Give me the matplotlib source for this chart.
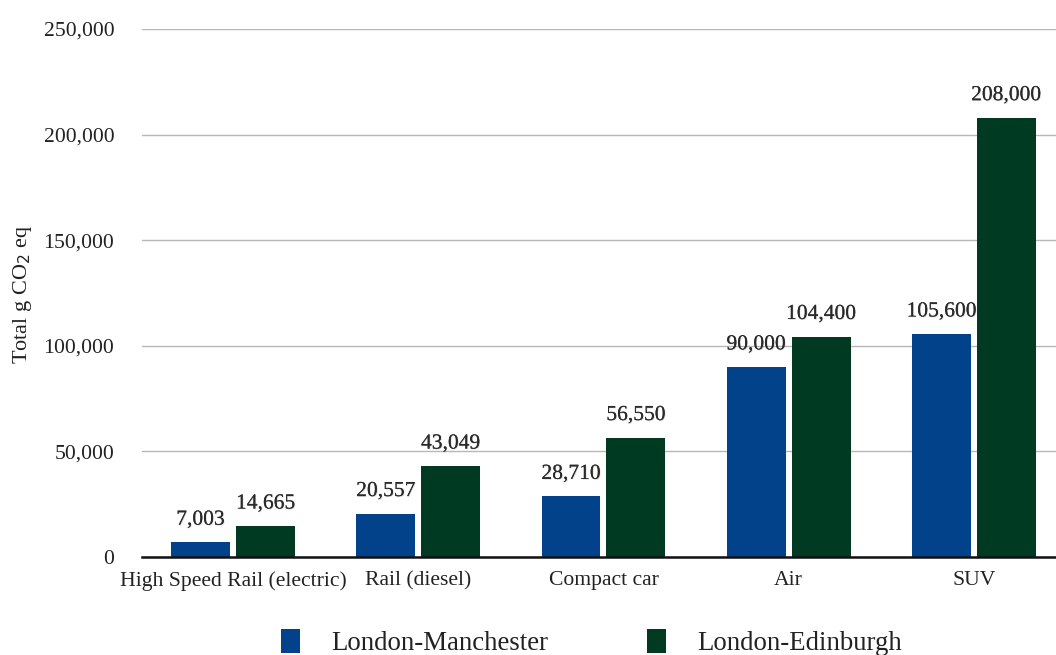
import matplotlib
matplotlib.use("Agg")
import matplotlib.pyplot as plt
import matplotlib.patheffects as pe
from matplotlib.patches import Patch
from matplotlib.ticker import FuncFormatter
import numpy as np

categories = ["High Speed Rail (electric)", "Rail (diesel)", "Compact car", "Air", "SUV"]
series_names = ["London-Manchester", "London-Edinburgh"]
manchester = [7003, 20557, 28710, 90000, 105600]
edinburgh = [14665, 43049, 56550, 104400, 208000]
y_ticks = [0, 50000, 100000, 150000, 200000, 250000]
colors = ["#01428a", "#003a22"]

plt.rcParams['font.family'] = ['Liberation Serif', 'DejaVu Serif']

fig = plt.figure(figsize=(10.56, 6.55), dpi=100)
ax = fig.add_axes([142/1056, 1-557/655, (1056-142)/1056, (557-29)/655])

x = np.arange(len(categories))
w = 0.318
gap = 0.016
b1 = ax.bar(x - w/2 - gap, manchester, w, color=colors[0], zorder=3)
b2 = ax.bar(x + w/2 + gap, edinburgh, w, color=colors[1], zorder=3)

effects = [pe.withSimplePatchShadow(offset=(0.6, -0.6), shadow_rgbFace='#000000', alpha=0.12),
           pe.Normal()]
for bars, vals in ((b1, manchester), (b2, edinburgh)):
    for bar, v in zip(bars, vals):
        t = ax.annotate(f"{v:,}", (bar.get_x() + bar.get_width()/2, v),
                        xytext=(0, 9), textcoords='offset points',
                        ha='center', va='bottom', fontsize=15.5, color='#2a2a2a', zorder=4)
        t.set_path_effects(effects)

ax.set_xlim(-0.491, 4.443)
ax.set_ylim(0, 250000)
ax.set_yticks(y_ticks)
ax.yaxis.set_major_formatter(FuncFormatter(lambda v, p: f"{int(v):,}"))
ax.set_xticks(x)
ax.set_xticklabels(categories)
ax.tick_params(axis='both', length=0, labelsize=15.6, colors='#222222')
ax.tick_params(axis='y', pad=20)
ax.tick_params(axis='x', pad=10)
ax.grid(axis='y', color='#b7b7b7', linewidth=1, zorder=0)
for s in ['top', 'right', 'left']:
    ax.spines[s].set_visible(False)
ax.spines['bottom'].set_color('#111111')
ax.spines['bottom'].set_linewidth(1.8)
ax.spines['bottom'].set_zorder(5)

fig.text(23/1056, 1-295/655, "Total g CO$_2$ eq", rotation=90, ha='center', va='center',
         fontsize=16, color='#222222')

handles = [Patch(facecolor=c, edgecolor='none') for c in colors]
leg = fig.legend(handles, series_names, loc='upper center', bbox_to_anchor=(0.560, 1-629/655),
                 ncol=2, frameon=False, fontsize=19.3, handlelength=0.72, handleheight=1.0,
                 handletextpad=1.15, columnspacing=3.7, borderpad=0, borderaxespad=0)
for t in leg.get_texts():
    t.set_color('#222222')

fig.savefig("out.png", dpi=100)
